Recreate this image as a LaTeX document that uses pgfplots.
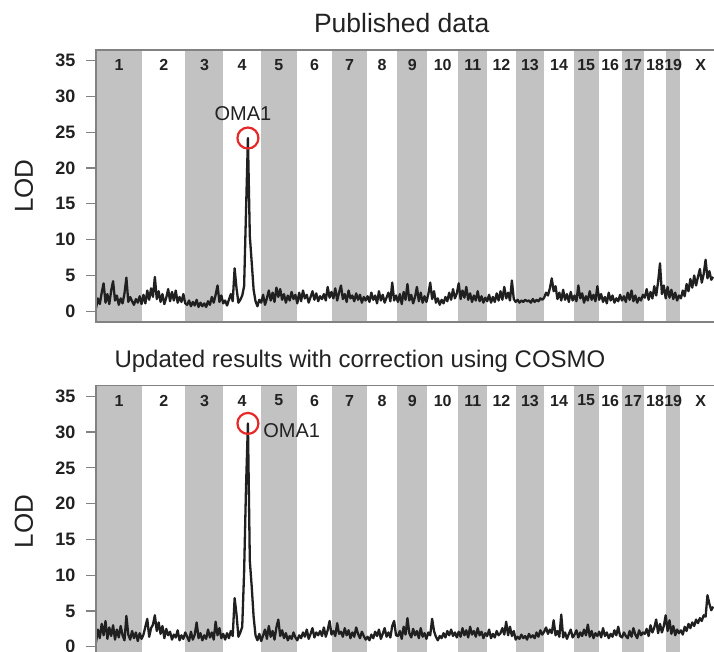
\documentclass[border=0pt]{standalone}
\usepackage{pgfplots}
\pgfplotsset{compat=1.18}
\usepackage{pgfplotstable}
\usepackage{fontspec}
\setmainfont{Liberation Sans}

\definecolor{bandgray}{RGB}{194,194,194}
\definecolor{framegray}{RGB}{130,130,130}
\definecolor{ink}{RGB}{34,34,34}
\definecolor{trace}{RGB}{32,32,32}
\definecolor{hitred}{RGB}{230,40,38}

% genome-wide LOD scan, position in Mb (cumulative), published (top) and COSMO-corrected (bot)
\pgfplotstableread{
pos top bot
0 0.4 0.6
8 1.8 2.4
16 1.0 1.2
24 2.6 3.2
32 3.9 1.6
40 1.2 3.6
48 2.4 1.1
56 1.0 2.7
64 2.9 1.5
72 4.2 3.0
80 1.5 1.0
88 2.2 2.4
96 0.9 1.3
104 1.8 2.9
112 1.1 1.6
120 2.5 0.9
128 4.7 4.3
136 1.3 1.7
144 2.0 1.0
152 1.4 2.2
160 0.9 1.2
168 1.7 2.0
176 1.2 0.8
184 2.1 1.9
192 1.0 1.1
200 2.3 1.7
208 1.1 2.8
216 2.9 3.9
224 1.6 1.4
232 3.2 2.6
240 2.0 3.1
248 4.8 4.4
256 1.7 2.2
264 2.8 3.4
272 1.3 1.8
280 2.4 2.9
288 1.0 1.2
296 1.9 2.5
304 3.1 1.6
312 1.4 2.1
320 2.7 1.0
328 1.5 1.7
336 2.9 1.3
344 1.2 2.3
352 2.0 0.9
360 1.3 1.6
368 2.4 1.1
376 1.1 2.0
384 0.9 1.4
392 1.5 0.8
400 0.7 2.1
408 1.3 1.0
416 0.8 1.7
424 1.6 3.4
432 0.6 1.2
440 1.2 1.9
448 0.7 0.9
456 1.1 1.6
464 0.6 1.1
472 1.4 2.4
480 0.9 1.3
488 2.0 2.0
496 1.2 1.0
504 2.3 3.5
512 3.6 1.6
520 1.3 2.6
528 2.2 1.2
536 1.1 1.8
544 1.5 1.0
552 0.8 1.9
560 1.6 1.2
568 2.4 2.2
576 1.4 1.5
584 6.0 6.8
592 3.2 4.5
600 1.2 1.4
608 1.6 2.0
616 2.2 2.8
624 3.5 10.5
632 14.0 22.3
640 24.2 31.2
648 10.5 12.0
656 6.8 8.4
664 3.0 4.2
672 1.4 1.6
680 0.7 0.9
688 1.6 1.8
696 1.2 0.8
704 2.3 1.6
712 0.9 2.4
720 1.8 1.1
728 2.9 2.9
736 1.5 1.4
744 2.6 2.2
752 1.3 1.0
760 3.3 2.7
768 2.0 3.8
776 3.1 1.5
784 1.6 2.3
792 2.4 1.2
800 1.2 1.9
808 2.2 0.9
816 1.5 1.5
824 2.7 1.1
832 1.7 2.0
840 2.3 1.3
848 1.1 0.9
856 2.6 1.6
864 1.4 1.2
872 2.9 2.0
880 1.8 1.4
888 2.3 2.4
896 1.2 1.1
904 2.0 1.8
912 2.8 2.6
920 1.6 1.3
928 2.5 2.0
936 1.4 1.6
944 2.1 2.2
952 1.7 1.5
960 2.4 2.7
968 1.5 1.4
976 3.4 2.3
984 1.9 3.6
992 2.7 1.7
1000 1.8 2.2
1008 3.2 1.5
1016 1.5 3.3
1024 2.6 1.8
1032 3.6 2.1
1040 1.7 1.4
1048 2.4 2.6
1056 1.3 1.6
1064 2.9 2.3
1072 1.8 1.2
1080 2.2 2.0
1088 1.4 1.4
1096 2.5 2.7
1104 1.6 1.8
1112 2.3 1.2
1120 1.2 2.1
1128 2.0 1.5
1136 1.5 1.0
1144 2.1 1.4
1152 1.3 0.9
1160 2.6 1.7
1168 1.6 1.2
1176 2.2 2.1
1184 1.1 1.5
1192 2.8 2.4
1200 1.5 1.1
1208 2.3 1.8
1216 1.2 2.6
1224 1.9 1.4
1232 2.6 2.0
1240 1.4 1.3
1248 4.0 2.9
1256 1.5 3.6
1264 2.2 1.6
1272 1.3 1.5
1280 2.4 2.2
1288 1.0 1.1
1296 2.7 2.8
1304 1.6 1.7
1312 3.8 4.0
1320 1.5 1.9
1328 2.3 1.3
1336 1.1 2.5
1344 2.0 1.6
1352 3.4 2.2
1360 1.4 1.2
1368 2.6 2.6
1376 1.2 1.4
1384 2.1 1.9
1392 1.3 1.1
1400 2.4 2.0
1408 4.0 1.6
1416 1.7 3.9
1424 2.8 2.2
1432 1.2 1.4
1440 1.8 0.9
1448 0.9 1.5
1456 1.6 1.2
1464 1.1 1.9
1472 2.0 1.3
1480 1.4 2.2
1488 2.6 1.6
1496 1.6 2.4
1504 3.1 1.5
1512 1.8 2.0
1520 2.5 1.3
1528 3.9 2.1
1536 1.7 1.4
1544 2.9 2.6
1552 1.9 1.6
1560 3.4 2.3
1568 1.6 1.3
1576 2.5 2.8
1584 1.3 1.7
1592 2.2 2.2
1600 1.5 1.4
1608 2.8 2.6
1616 1.4 1.6
1624 2.1 2.1
1632 1.2 1.2
1640 1.9 1.9
1648 1.4 1.5
1656 2.3 2.4
1664 1.2 1.2
1672 2.0 1.8
1680 1.3 1.3
1688 2.5 2.2
1696 1.5 1.6
1704 2.8 1.9
1712 1.6 2.6
1720 3.4 1.7
1728 1.8 3.5
1736 2.6 1.6
1744 1.5 2.8
1752 4.3 1.5
1760 1.7 2.2
1768 1.3 1.0
1776 1.6 1.4
1784 1.2 1.1
1792 1.5 1.7
1800 1.3 1.2
1808 1.6 1.5
1816 1.4 1.0
1824 1.5 1.8
1832 1.2 1.3
1840 1.7 1.6
1848 1.3 1.2
1856 1.6 2.0
1864 1.4 1.4
1872 1.8 2.3
1880 1.6 1.7
1888 1.9 2.1
1896 2.6 2.7
1904 2.2 1.8
1912 3.2 2.4
1920 4.6 1.9
1928 2.8 3.7
1936 3.5 1.6
1944 1.7 2.2
1952 2.6 1.4
1960 1.5 4.5
1968 3.0 1.3
1976 1.6 2.0
1984 2.4 1.1
1992 1.3 1.8
2000 2.7 2.4
2008 1.5 1.3
2016 2.2 1.7
2024 1.4 2.3
2032 3.6 1.3
2040 1.8 2.0
2048 2.5 1.5
2056 1.2 2.4
2064 2.1 1.6
2072 1.5 3.1
2080 2.8 1.4
2088 1.6 2.2
2096 2.3 1.2
2104 1.4 1.9
2112 3.5 1.5
2120 1.6 2.1
2128 2.4 1.3
2136 1.3 2.6
2144 2.0 1.5
2152 1.1 2.0
2160 2.6 1.2
2168 1.5 1.8
2176 2.2 1.4
2184 1.2 2.3
2192 1.8 1.6
2200 1.4 2.8
2208 2.3 1.5
2216 1.5 1.3
2224 2.1 2.0
2232 1.3 1.5
2240 2.6 1.2
2248 1.6 2.2
2256 2.9 1.4
2264 1.4 2.6
2272 2.2 1.7
2280 1.2 1.2
2288 1.9 2.3
2296 1.5 1.6
2304 2.3 2.0
2312 1.9 1.8
2320 3.1 2.5
2328 1.6 1.5
2336 2.7 3.0
2344 1.8 2.0
2352 3.5 2.7
2360 2.2 3.8
2368 4.1 1.9
2376 6.7 3.2
2384 2.4 2.0
2392 3.6 2.9
2400 1.8 4.4
2408 3.4 2.2
2416 1.9 3.7
2424 3.0 1.8
2432 1.7 2.9
2440 2.6 1.6
2448 1.5 2.4
2456 2.2 1.9
2464 1.8 2.3
2472 2.9 1.7
2480 2.1 2.8
2488 3.8 2.2
2496 2.8 3.2
2504 4.5 2.6
2512 3.3 3.4
2520 5.0 2.9
2528 3.6 3.8
2536 4.8 3.3
2544 5.9 4.0
2552 4.0 3.6
2560 5.2 4.4
2568 7.2 4.2
2576 4.6 7.2
2584 5.6 6.0
2592 4.4 5.1
2600 4.8 5.6
}\lod

% alternating chromosome bands (odd chromosomes shaded)
\newcommand\chrbands{%
  \fill[bandgray] (axis cs:0,-1.5) rectangle (axis cs:195,36.5);
  \fill[bandgray] (axis cs:377,-1.5) rectangle (axis cs:537,36.5);
  \fill[bandgray] (axis cs:694,-1.5) rectangle (axis cs:846,36.5);
  \fill[bandgray] (axis cs:996,-1.5) rectangle (axis cs:1141,36.5);
  \fill[bandgray] (axis cs:1270,-1.5) rectangle (axis cs:1395,36.5);
  \fill[bandgray] (axis cs:1526,-1.5) rectangle (axis cs:1648,36.5);
  \fill[bandgray] (axis cs:1768,-1.5) rectangle (axis cs:1888,36.5);
  \fill[bandgray] (axis cs:2013,-1.5) rectangle (axis cs:2117,36.5);
  \fill[bandgray] (axis cs:2215,-1.5) rectangle (axis cs:2310,36.5);
  \fill[bandgray] (axis cs:2401,-1.5) rectangle (axis cs:2462,36.5);
}
\newcommand\chrlabels{%
  \node[chr] at (axis cs:97.5,34.4) {1};
  \node[chr] at (axis cs:286,34.4) {2};
  \node[chr] at (axis cs:457,34.4) {3};
  \node[chr] at (axis cs:615.5,34.4) {4};
  \node[chr] at (axis cs:770,34.4) {5};
  \node[chr] at (axis cs:921,34.4) {6};
  \node[chr] at (axis cs:1068.5,34.4) {7};
  \node[chr] at (axis cs:1205.5,34.4) {8};
  \node[chr] at (axis cs:1332.5,34.4) {9};
  \node[chr] at (axis cs:1460.5,34.4) {10};
  \node[chr] at (axis cs:1587,34.4) {11};
  \node[chr] at (axis cs:1708,34.4) {12};
  \node[chr] at (axis cs:1828,34.4) {13};
  \node[chr] at (axis cs:1950.5,34.4) {14};
  \node[chr] at (axis cs:2065,34.4) {15};
  \node[chr] at (axis cs:2166,34.4) {16};
  \node[chr] at (axis cs:2262.5,34.4) {17};
  \node[chr] at (axis cs:2355.5,34.4) {18};
  \node[chr] at (axis cs:2431.5,34.4) {19};
  \node[chr] at (axis cs:2547.5,34.4) {X};
}

\tikzset{
  chr/.style={font=\fontsize{16}{18}\selectfont\bfseries, text=ink, inner sep=0pt},
  gene/.style={font=\fontsize{20}{22}\selectfont, text=ink, inner sep=0pt},
}

\pgfplotsset{
  lodpanel/.style={
    scale only axis, width=625pt, height=272pt,
    xmin=0, xmax=2633, ymin=-1.5, ymax=36.5,
    xtick=\empty, ytick={0,5,...,35},
    ytick pos=left, tick align=outside, major tick length=10pt,
    every tick/.style={framegray, line width=1.2pt},
    axis line style={framegray, line width=1.5pt},
    axis on top,
    /pgf/number format/assume math mode=true,
    yticklabel style={font=\fontsize{18}{20}\selectfont\bfseries, text=ink, xshift=-7pt},
    ylabel={LOD},
    ylabel style={font=\fontsize{26}{28}\selectfont, text=ink,
      at={(axis description cs:-0.1152,0.5)}, anchor=center},
  },
  scan/.style={trace, line width=2.3pt, line join=round},
  hit/.style={only marks, mark=o, mark size=10.5pt, hitred,
    mark options={line width=2.2pt}},
}

\begin{document}
\begin{tikzpicture}
\path[use as bounding box] (0pt,0pt) rectangle (714pt,652pt);

\begin{axis}[lodpanel, at={(96pt,330pt)}, anchor=south west]
  \chrbands
  \addplot[scan] table[x=pos, y=top] {\lod};
  \addplot[hit] coordinates {(640,24.2)};
  \node[gene, anchor=base] at (axis cs:619,26.7) {OMA1};
  \chrlabels
\end{axis}

\begin{axis}[lodpanel, at={(96pt,-5.5pt)}, anchor=south west]
  \chrbands
  \addplot[scan] table[x=pos, y=bot] {\lod};
  \addplot[hit] coordinates {(640,31.2)};
  \node[gene, anchor=base west] at (axis cs:704,29.3) {OMA1};
  \chrlabels
\end{axis}

\node[anchor=base, font=\fontsize{26.5}{28}\selectfont, text=ink] at (401.7pt,619pt) {Published data};
\node[anchor=base, font=\fontsize{24}{26}\selectfont, text=ink] at (360pt,284pt) {Updated results with correction using COSMO};
\end{tikzpicture}
\end{document}
